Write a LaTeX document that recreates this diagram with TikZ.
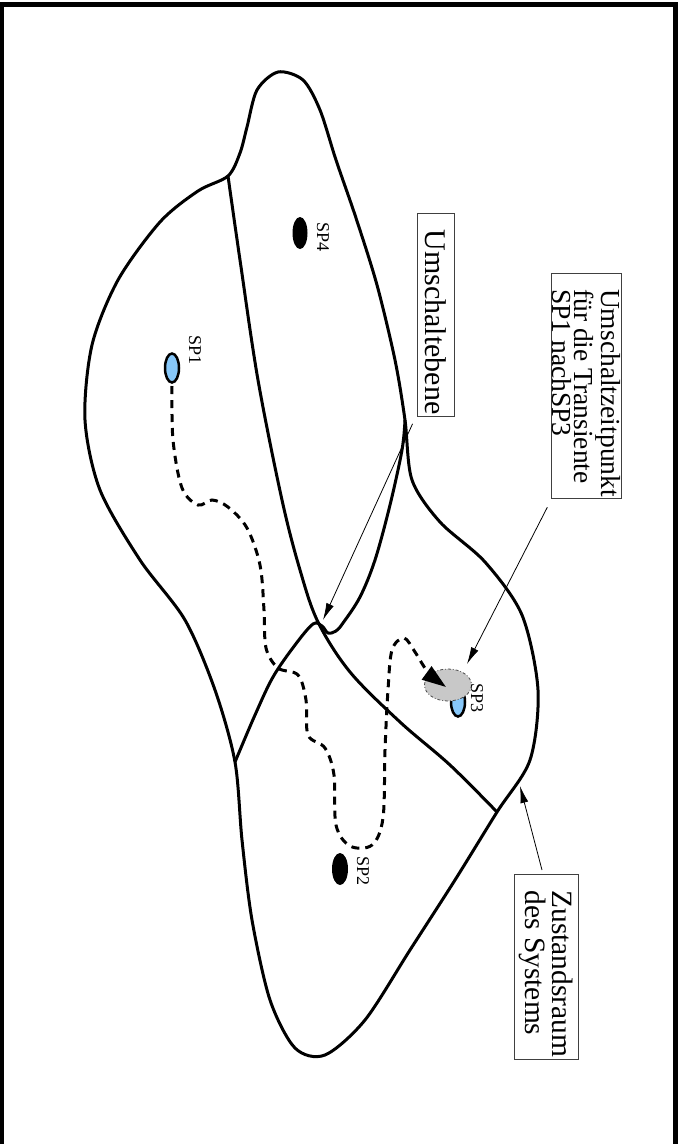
\documentclass[tikz,border=0pt]{standalone}
\usepackage{fontspec}
\setmainfont{Liberation Serif}
\usepackage{xcolor}
\usetikzlibrary{arrows.meta}

\definecolor{spblue}{RGB}{135,200,250}
\definecolor{spgray}{RGB}{200,200,200}
\newcommand{\vorn}{\hspace*{14pt}}

\begin{document}
\begin{tikzpicture}[
    x=1pt, y=-1pt,
    rand/.style={line width=3pt, line join=round},
    pfad/.style={line width=3pt, dash pattern=on 8pt off 6pt},
    kasten/.style={
        draw=black!75,
        line width=0.8pt,
        rotate=-90,
        align=left,
        inner xsep=2pt
    },
    spname/.style={rotate=-90, font=\fontsize{18}{18}\selectfont},
    zeiger/.style={-{Latex[length=17pt, width=8pt]}, line width=0.8pt}
]
\useasboundingbox (0,0) rectangle (685,1144);
\draw[line width=5.5pt] (1.5,4.5) rectangle (675.5,1170);

% Zustandsraum
\draw[rand] plot[smooth cycle, tension=0.5] coordinates {
    (278,72) (303,80) (320,110) (336,160) (356,218) (377,285)
    (395,360) (405,420) (412,480) (440,522) (485,562) (522,615)
    (538,690) (530,760) (497,812) (455,880) (410,950) (365,1020)
    (325,1055) (295,1048) (270,1000) (252,920) (242,840) (235,762)
    (215,690) (185,620) (140,560) (100,490) (85,420) (92,345)
    (118,280) (160,222) (198,191) (228,176) (240,153) (247,127)
    (257,90)};

% Umschaltebenen
\draw[rand] plot[smooth, tension=0.55] coordinates {
    (228,176) (240,260) (258,380) (282,500) (300,570) (318,622)
    (350,672) (400,722) (450,765) (497,812)};
\draw[rand] plot[smooth, tension=0.55] coordinates {
    (235,762) (255,715) (273,677) (295,645) (313,624) (322,626)
    (328,633) (336,631) (343,623) (360,597) (375,560) (390,505)
    (402,450) (405,420)};
\coordinate (kreuzung) at (323,620);
\coordinate (rand) at (520,786);

% Stationaere Punkte
\filldraw[fill=spblue, line width=2.5pt] (172,368) ellipse [x radius=7, y radius=14.5];
\fill (300,233) ellipse [x radius=7.5, y radius=16];
\fill (340,869) ellipse [x radius=8, y radius=16];
\filldraw[fill=spblue, line width=2.5pt] (458,702) ellipse [x radius=7, y radius=14.5];
\filldraw[fill=spgray, draw=black!70, line width=0.8pt, dash dot]
    (448,685) ellipse [x radius=23.5, y radius=16];
\coordinate (sp3oben) at (467,664);

\node[spname] (sp1) at (195,350) {SP1};
\node[spname] (sp4) at (323,237) {SP4};
\node[spname] (sp2) at (363,871) {SP2};
\node[spname] (sp3) at (477,698) {SP3};

% Transiente SP1 -> SP3
\draw[pfad, -{Triangle[length=24pt, width=16pt]}] plot[smooth, tension=0.55] coordinates {
    (172,386) (173,440) (182,488) (198,505) (212,500) (228,507)
    (247,528) (260,565) (264,610) (266,648) (278,668) (298,675)
    (306,700) (308,735) (325,748) (334,775) (336,825) (350,846)
    (372,845) (383,818) (385,750) (388,690) (392,650) (404,638)
    (415,652) (428,672) (446,687)};

\node[kasten, font=\fontsize{30}{26}\selectfont, inner ysep=8pt] (ebene) at (435.5,315)
    {\vorn Umschaltebene};
\node[kasten, font=\fontsize{27.5}{22}\selectfont, inner ysep=1pt] (zeit) at (586.5,386)
    {\vorn Umschaltzeitpunkt\\\vorn f\"ur die Transiente\\\vorn SP1 nachSP3};
\node[kasten, font=\fontsize{29.5}{27}\selectfont, inner ysep=5pt] (raum) at (546,967)
    {\vorn Zustandsraum\\\vorn des Systems};

\draw[zeiger] ([shift={(-4,7)}]ebene.south east) -- (kreuzung);
\draw[zeiger] ([shift={(-4,8)}]zeit.south east) -- (sp3oben);
\draw[zeiger] ([shift={(-4,-4)}]raum.west) -- (rand);

\end{tikzpicture}
\end{document}
